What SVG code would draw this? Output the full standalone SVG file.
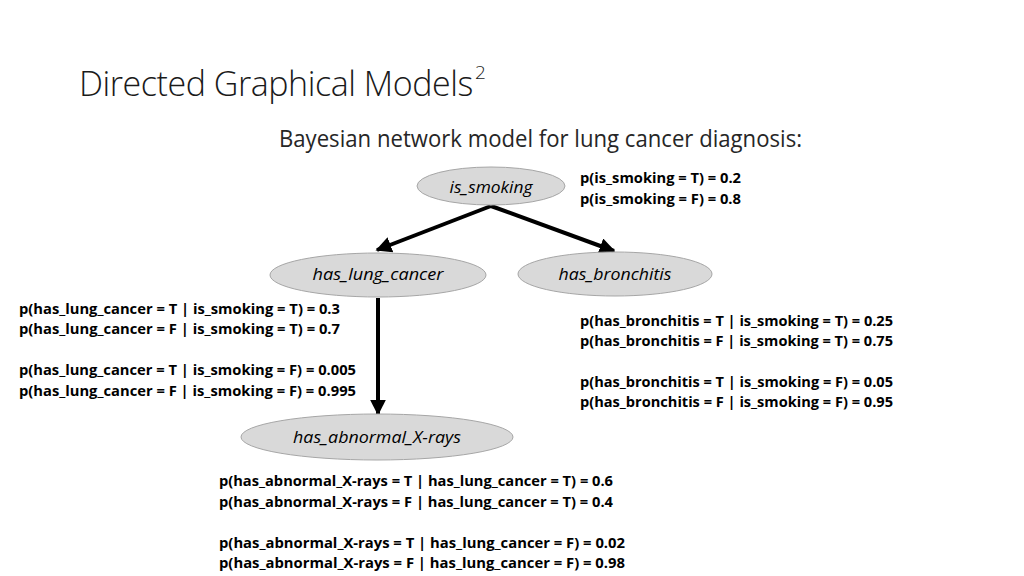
<svg xmlns="http://www.w3.org/2000/svg" width="1024" height="576" viewBox="0 0 1024 576">
<style>
.title{font-family:"Open Sans","Liberation Sans",sans-serif;font-weight:300;fill:#1a1a1a}
.sub{font-family:"Open Sans","Liberation Sans",sans-serif;font-size:23px;fill:#262626}
.node{fill:#d9d9d9;stroke:#a6a6a6;stroke-width:1}
.lbl{font-family:"Open Sans","Liberation Sans",sans-serif;font-style:italic;font-size:15.5px;fill:#000;text-anchor:middle}
.p{font-family:"Open Sans","Liberation Sans",sans-serif;font-weight:bold;font-size:15px;fill:#000}
.edge{stroke:#000;stroke-width:4;fill:none}
</style>
<defs>
<marker id="ah" viewBox="0 0 10 10" refX="9" refY="5" markerWidth="4" markerHeight="4" orient="auto" markerUnits="strokeWidth">
<path d="M0,0 L10,5 L0,10 Z" fill="#000"/>
</marker>
</defs>
<rect width="1024" height="576" fill="#fff"/>
<text class="title" x="79" y="96" font-size="34" letter-spacing="-0.45">Directed Graphical Models<tspan font-size="19" dx="2" dy="-17" letter-spacing="0">2</tspan></text>
<text class="sub" x="279" y="147" textLength="523" lengthAdjust="spacingAndGlyphs">Bayesian network model for lung cancer diagnosis:</text>

<g id="connectors">
<line class="edge" x1="491" y1="206" x2="377" y2="250" marker-end="url(#ah)"/>
<line class="edge" x1="491" y1="206" x2="614" y2="251" marker-end="url(#ah)"/>
<line class="edge" x1="378" y1="298" x2="378" y2="414" marker-end="url(#ah)"/>
</g>

<g id="is_smoking">
<ellipse class="node" cx="491" cy="186" rx="74" ry="19"/>
<text class="lbl" x="491" y="193" textLength="83" lengthAdjust="spacingAndGlyphs">is_smoking</text>
</g>
<g id="has_lung_cancer">
<ellipse class="node" cx="378" cy="275" rx="108" ry="22"/>
<text class="lbl" x="378" y="280" textLength="131" lengthAdjust="spacingAndGlyphs">has_lung_cancer</text>
</g>
<g id="has_bronchitis">
<ellipse class="node" cx="615" cy="274" rx="97" ry="22"/>
<text class="lbl" x="615" y="280" textLength="113" lengthAdjust="spacingAndGlyphs">has_bronchitis</text>
</g>
<g id="has_abnormal_X-rays">
<ellipse class="node" cx="377" cy="437" rx="136" ry="23"/>
<text class="lbl" x="377" y="443" textLength="168" lengthAdjust="spacingAndGlyphs">has_abnormal_X-rays</text>
</g>

<g id="cpt_smoking">
<text class="p" x="580" y="183" textLength="161" lengthAdjust="spacingAndGlyphs">p(is_smoking = T) = 0.2</text>
<text class="p" x="580" y="204" textLength="161" lengthAdjust="spacingAndGlyphs">p(is_smoking = F) = 0.8</text>
</g>
<g id="cpt_lung">
<text class="p" x="19" y="314" textLength="321" lengthAdjust="spacingAndGlyphs">p(has_lung_cancer = T | is_smoking = T) = 0.3</text>
<text class="p" x="19" y="334" textLength="321" lengthAdjust="spacingAndGlyphs">p(has_lung_cancer = F | is_smoking = T) = 0.7</text>
<text class="p" x="19" y="375" textLength="337" lengthAdjust="spacingAndGlyphs">p(has_lung_cancer = T | is_smoking = F) = 0.005</text>
<text class="p" x="19" y="396" textLength="337" lengthAdjust="spacingAndGlyphs">p(has_lung_cancer = F | is_smoking = F) = 0.995</text>
</g>
<g id="cpt_bronchitis">
<text class="p" x="580" y="326" textLength="313" lengthAdjust="spacingAndGlyphs">p(has_bronchitis = T | is_smoking = T) = 0.25</text>
<text class="p" x="580" y="346" textLength="313" lengthAdjust="spacingAndGlyphs">p(has_bronchitis = F | is_smoking = T) = 0.75</text>
<text class="p" x="580" y="387" textLength="313" lengthAdjust="spacingAndGlyphs">p(has_bronchitis = T | is_smoking = F) = 0.05</text>
<text class="p" x="580" y="407" textLength="313" lengthAdjust="spacingAndGlyphs">p(has_bronchitis = F | is_smoking = F) = 0.95</text>
</g>
<g id="cpt_xrays">
<text class="p" x="219" y="486" textLength="394" lengthAdjust="spacingAndGlyphs">p(has_abnormal_X-rays = T | has_lung_cancer = T) = 0.6</text>
<text class="p" x="219" y="507" textLength="394" lengthAdjust="spacingAndGlyphs">p(has_abnormal_X-rays = F | has_lung_cancer = T) = 0.4</text>
<text class="p" x="219" y="548" textLength="406" lengthAdjust="spacingAndGlyphs">p(has_abnormal_X-rays = T | has_lung_cancer = F) = 0.02</text>
<text class="p" x="219" y="568" textLength="406" lengthAdjust="spacingAndGlyphs">p(has_abnormal_X-rays = F | has_lung_cancer = F) = 0.98</text>
</g>
</svg>
